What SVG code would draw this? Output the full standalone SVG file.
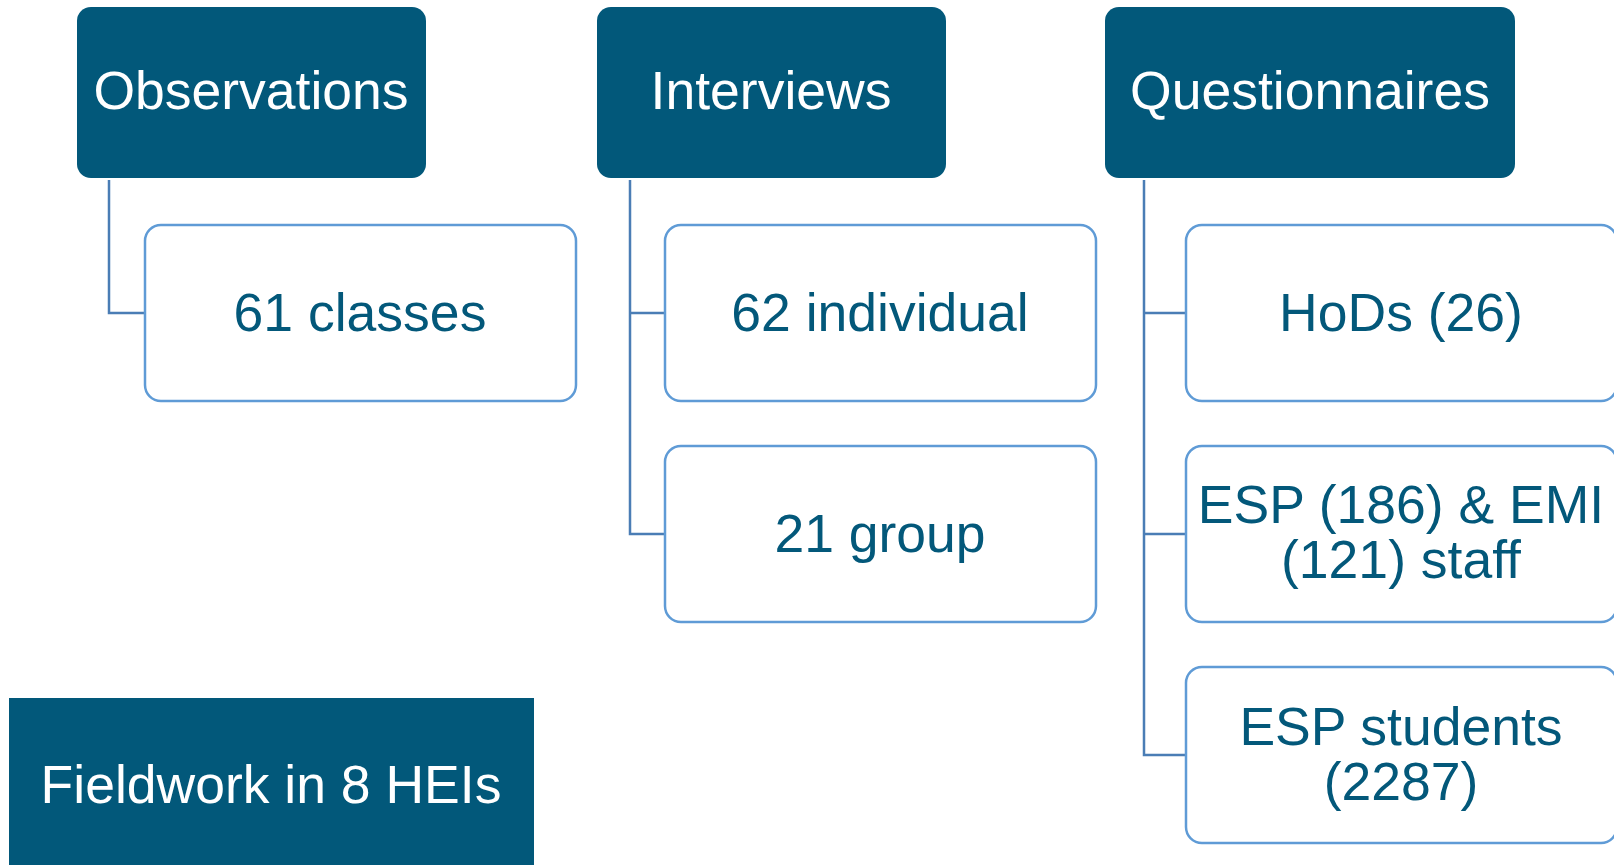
<svg xmlns="http://www.w3.org/2000/svg" width="1614" height="865" viewBox="0 0 1614 865">
<style>
.hd{fill:#02587a;}
.hdt{fill:#ffffff;font-family:"Liberation Sans",Arial,sans-serif;font-size:53.5px;text-anchor:middle;}
.ch{fill:#ffffff;stroke:#5f9bd6;stroke-width:2.5;}
.cht{fill:#03587a;font-family:"Liberation Sans",Arial,sans-serif;font-size:53.5px;text-anchor:middle;}
.cn{fill:none;stroke:#4a7db5;stroke-width:2.5;}
</style>
<rect width="1614" height="865" fill="#ffffff"/>
<g id="connectors">
<path class="cn" d="M109 180 V313 H145"/>
<path class="cn" d="M630 180 V534 H665 M630 313 H665"/>
<path class="cn" d="M1144 180 V755 H1186 M1144 313 H1186 M1144 534 H1186"/>
</g>
<g id="observations"><rect class="hd" x="77" y="7" width="349" height="171" rx="14"/><text class="hdt" x="251" y="109">Observations</text></g>
<g id="interviews"><rect class="hd" x="597" y="7" width="349" height="171" rx="14"/><text class="hdt" x="771" y="109">Interviews</text></g>
<g id="questionnaires"><rect class="hd" x="1105" y="7" width="410" height="171" rx="14"/><text class="hdt" x="1310" y="109">Questionnaires</text></g>
<g id="classes"><rect class="ch" x="145" y="225" width="431" height="176" rx="16"/><text class="cht" x="360" y="331">61 classes</text></g>
<g id="individual"><rect class="ch" x="665" y="225" width="431" height="176" rx="16"/><text class="cht" x="880" y="331">62 individual</text></g>
<g id="group"><rect class="ch" x="665" y="446" width="431" height="176" rx="16"/><text class="cht" x="880" y="552">21 group</text></g>
<g id="hods"><rect class="ch" x="1186" y="225" width="431" height="176" rx="16"/><text class="cht" x="1401" y="331">HoDs (26)</text></g>
<g id="staff"><rect class="ch" x="1186" y="446" width="431" height="176" rx="16"/><text class="cht" x="1401" y="523">ESP (186) &amp; EMI</text><text class="cht" x="1401" y="578">(121) staff</text></g>
<g id="students"><rect class="ch" x="1186" y="667" width="431" height="176" rx="16"/><text class="cht" x="1401" y="745">ESP students</text><text class="cht" x="1401" y="800">(2287)</text></g>
<g id="fieldwork"><rect class="hd" x="9" y="698" width="525" height="180"/><text class="hdt" x="271" y="803">Fieldwork in 8 HEIs</text></g>
</svg>
